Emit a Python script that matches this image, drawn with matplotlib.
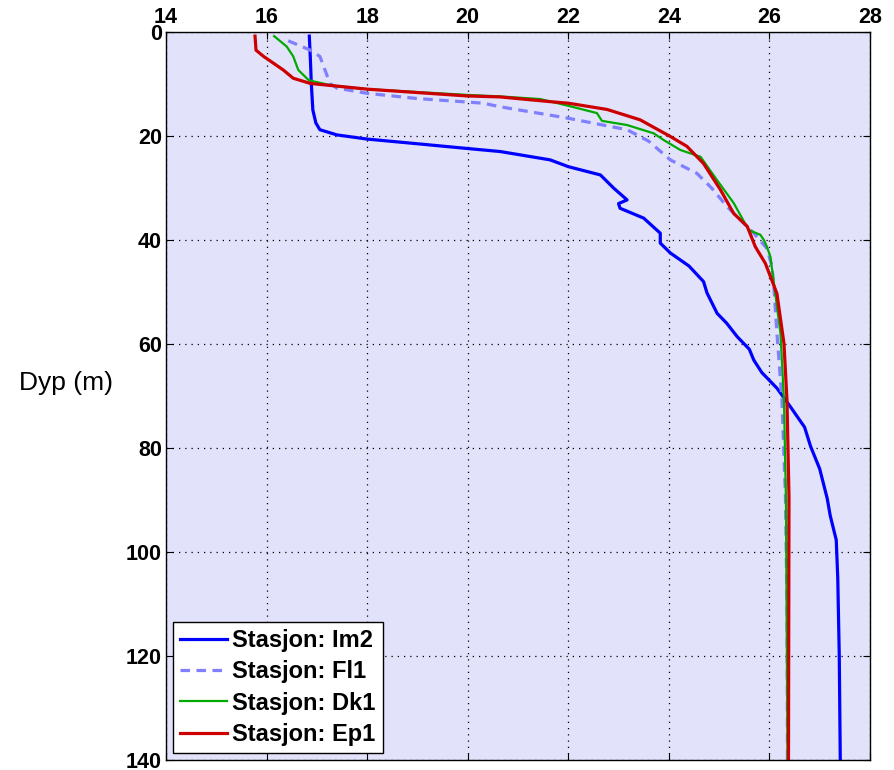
import matplotlib.pyplot as plt
import numpy as np

# temperature (x) vs depth (y) per station
im2_depth = [0.8, 5, 10, 15, 17.5, 18.8, 19.8, 20.6, 21.5, 22.4, 23.0, 24.6, 25.9, 27.5,
             30, 32.3, 33.0, 33.9, 35.8, 38.7, 40.6, 42.5, 45, 48.0, 50.2, 54.1, 56, 58.6,
             61, 63.1, 65.5, 68.5, 72.1, 76, 79.7, 84, 89.7, 93, 97.7, 105, 120, 140]
im2_temp = [16.85, 16.87, 16.89, 16.92, 16.98, 17.06, 17.4, 18.0, 19.0, 19.98, 20.65, 21.64,
            22.0, 22.64, 22.9, 23.17, 23.0, 23.03, 23.5, 23.83, 23.83, 24.03, 24.4, 24.69,
            24.76, 24.96, 25.15, 25.36, 25.6, 25.69, 25.85, 26.15, 26.42, 26.7, 26.82, 27.0,
            27.15, 27.21, 27.33, 27.36, 27.39, 27.41]

fl1_depth = [1.7, 3.5, 4.7, 7, 9.9, 10.8, 11.8, 12.8, 13.7, 14.4, 16.0, 16.6, 18.8, 21,
             24.6, 27.2, 30, 33.6, 38.7, 41.6, 45, 49.0, 57.9, 70.8, 89.4, 110, 140]
fl1_temp = [16.43, 16.87, 17.06, 17.15, 17.26, 17.4, 18.0, 18.99, 20.31, 20.65, 21.64, 22.0,
            23.17, 23.6, 24.03, 24.56, 24.85, 25.16, 25.69, 25.95, 26.05, 26.09, 26.15, 26.25,
            26.32, 26.35, 26.36]

dk1_depth = [0.8, 2.8, 4.7, 7.3, 9.2, 9.5, 10.3, 11.0, 12.1, 12.4, 12.9, 14.2, 15.6, 17.1,
             17.9, 19.5, 20.8, 22.7, 24.0, 28.5, 32.9, 38.1, 39.0, 40.0, 41.3, 43.2, 48.3,
             57.9, 70.8, 90, 140]
dk1_temp = [16.15, 16.4, 16.53, 16.63, 16.83, 16.93, 17.3, 18.0, 19.98, 20.65, 21.44, 22.0,
            22.57, 22.67, 23.17, 23.70, 23.9, 24.23, 24.63, 24.96, 25.29, 25.59, 25.82, 25.89,
            25.95, 26.02, 26.09, 26.22, 26.29, 26.33, 26.36]

ep1_depth = [0.8, 3.5, 4.7, 7.3, 8.9, 9.9, 11.0, 12.3, 12.5, 13.4, 13.7, 14.9, 16.9, 20.1,
             22.0, 25.3, 30.4, 34.9, 37.4, 41.3, 44.5, 50.3, 59.9, 70.8, 89.4, 140]
ep1_temp = [15.77, 15.79, 15.94, 16.33, 16.53, 16.87, 18.0, 19.98, 20.65, 21.64, 22.0, 22.77,
            23.43, 24.03, 24.36, 24.69, 25.03, 25.29, 25.56, 25.72, 25.92, 26.15, 26.29,
            26.35, 26.39, 26.38]

plt.rcParams['font.family'] = ['Liberation Sans', 'DejaVu Sans']

fig = plt.figure(figsize=(8.95, 7.7), dpi=100)
ax = fig.add_axes([0.1855, 0.013, 0.7865, 0.9455])
ax.set_facecolor('#e2e2fa')

ax.plot(im2_temp, im2_depth, color='#0000ff', lw=2.3, label='Stasjon: Im2')
ax.plot(fl1_temp, fl1_depth, color='#8080ff', lw=2.3, ls=(0, (3, 2)), label='Stasjon: Fl1')
ax.plot(dk1_temp, dk1_depth, color='#00aa00', lw=1.6, label='Stasjon: Dk1')
ax.plot(ep1_temp, ep1_depth, color='#cc0000', lw=2.3, label='Stasjon: Ep1')

ax.set_xlim(14, 28)
ax.set_ylim(140, 0)
ax.set_xticks(np.arange(14, 29, 2))
ax.set_yticks(np.arange(0, 141, 20))
ax.xaxis.tick_top()
ax.tick_params(direction='in', top=True, bottom=True, left=True, right=True,
               labelsize=15.5, length=5, pad=3)
for lab in ax.get_xticklabels() + ax.get_yticklabels():
    lab.set_fontweight('bold')
ax.grid(True, color='black', ls=(0, (1, 4)), lw=0.9)
for sp in ax.spines.values():
    sp.set_linewidth(1.0)

fig.text(66 / 895, 1 - 383 / 770, 'Dyp (m)', fontsize=19, ha='center', va='center')

leg = ax.legend(loc='lower left', prop={'weight': 'bold', 'size': 17},
                fancybox=False, edgecolor='black', framealpha=1, handlelength=2.0,
                handletextpad=0.2, labelspacing=0.35, borderpad=0.3, borderaxespad=0.3)
leg.get_frame().set_linewidth(1.0)

fig.savefig('out.png', dpi=100)
